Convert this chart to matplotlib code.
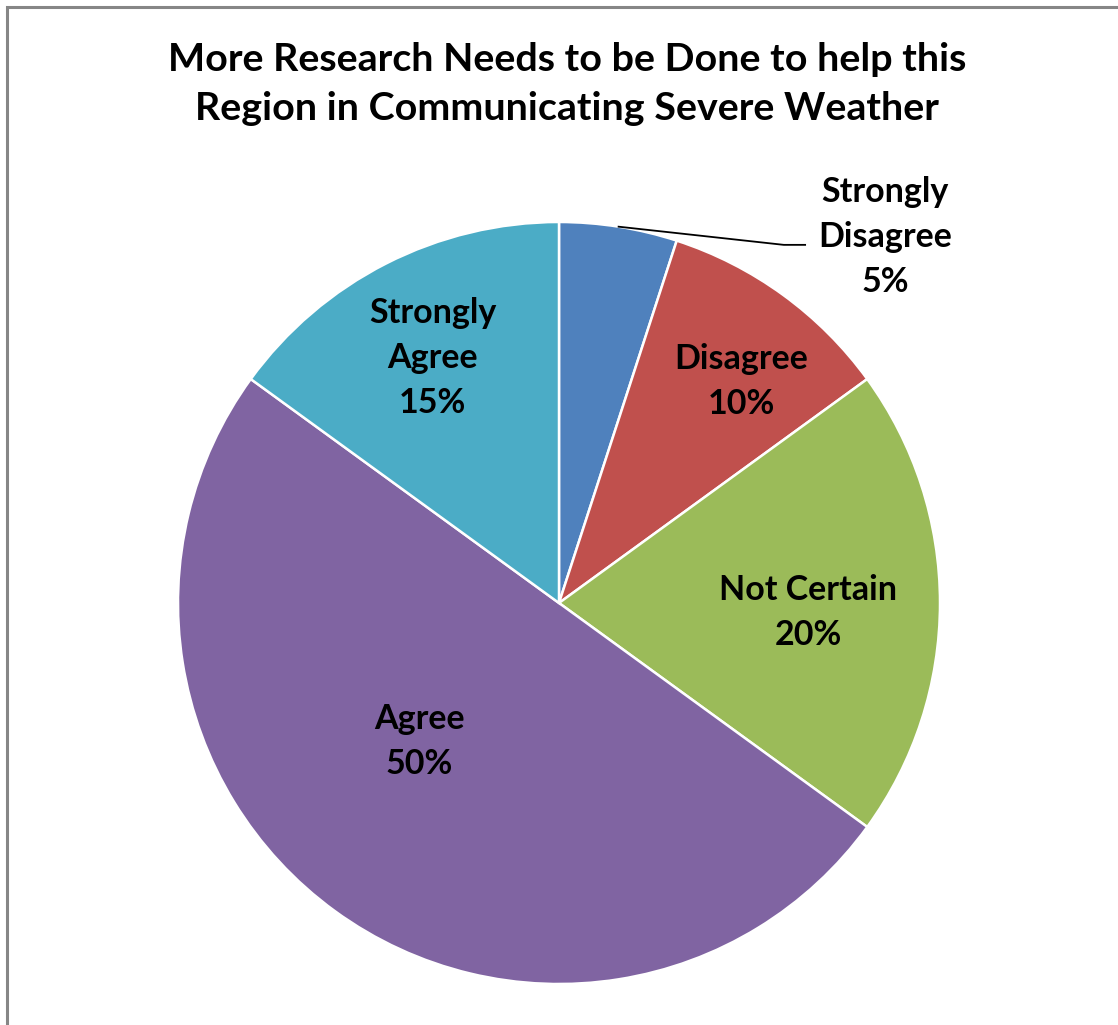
import numpy as np
import matplotlib
matplotlib.use("Agg")
import matplotlib.pyplot as plt
from matplotlib.patches import Rectangle

plt.rcParams['font.family'] = ['Lato', 'DejaVu Sans']

title = "More Research Needs to be Done to help this\nRegion in Communicating Severe Weather"
categories = ["Strongly\nDisagree", "Disagree", "Not Certain", "Agree", "Strongly\nAgree"]
shares = [5, 10, 20, 50, 15]
colors = ["#4F81BD", "#C0504D", "#9BBB59", "#8064A2", "#4BACC6"]

W, H = 1118, 1025
fig = plt.figure(figsize=(W / 100, H / 100), dpi=100)

# chart frame (only left/top visible in the crop)
fig.patches.append(Rectangle((7 / W, -0.1), 1.2, (H - 7) / H + 0.1, transform=fig.transFigure,
                             fill=False, edgecolor="#868686", linewidth=2.2))

cx, cy, r = 559, 603, 381
ax = fig.add_axes([(cx - r) / W, (H - cy - r) / H, 2 * r / W, 2 * r / H])
wedges, _ = ax.pie(shares, colors=colors, startangle=90, counterclock=False,
                   wedgeprops=dict(edgecolor="white", linewidth=1.8))
ax.set_xlim(-1, 1); ax.set_ylim(-1, 1)
ax.set_aspect("equal")
ax.axis("off")

# label placement per slice: radius, angle tweak
lab_r = [None, 0.76, 0.655, 0.51, 0.73]
lab_da = [0, -3, -1.5, -10, 0]
dy = -0.008
lab_kw = dict(ha="center", va="center", fontsize=24.5, fontweight="bold", linespacing=1.5)
for i, w in enumerate(wedges):
    mid = np.deg2rad((w.theta1 + w.theta2) / 2)
    txt = f"{categories[i]}\n{shares[i]}%"
    if lab_r[i] is None:
        # outside label with leader line
        ex, ey = np.cos(mid), np.sin(mid)
        tx, ty = 1.293 * np.cos(np.deg2rad(48.6)), 1.293 * np.sin(np.deg2rad(48.6))
        ax.plot([ex, 0.59, 0.646], [ey, 0.94, 0.94], color="black", lw=1.3, clip_on=False)
        ax.text(tx, ty + dy, txt, clip_on=False, **lab_kw)
        continue
    a = mid + np.deg2rad(lab_da[i])
    ax.text(lab_r[i] * np.cos(a), lab_r[i] * np.sin(a) + dy, txt, **lab_kw)

fig.text(567 / W, 1 - 84 / H, title, ha="center", va="center", fontsize=28.4,
         fontweight="bold", linespacing=1.45)

fig.savefig("out.png", dpi=100)
